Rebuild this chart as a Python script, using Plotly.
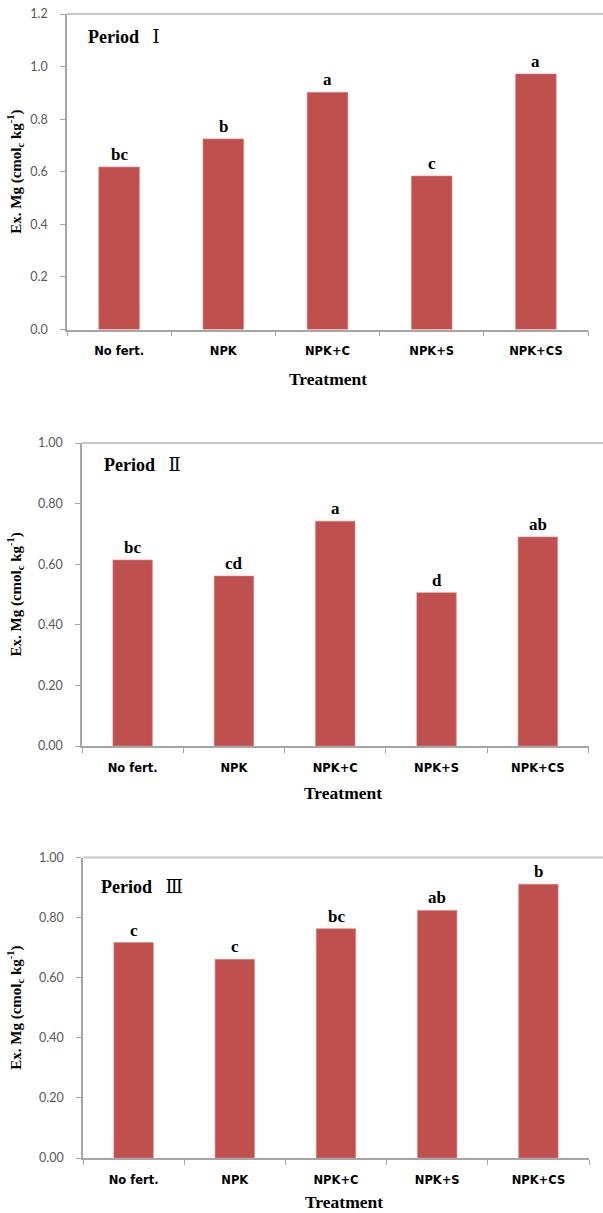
import plotly.graph_objects as go

# ---------------- data ----------------
categories = ["No fert.", "NPK", "NPK+C", "NPK+S", "NPK+CS"]
period1 = [0.618, 0.725, 0.902, 0.584, 0.972]
period2 = [0.614, 0.561, 0.742, 0.506, 0.690]
period3 = [0.717, 0.661, 0.763, 0.824, 0.911]
letters1 = ["bc", "b", "a", "c", "a"]
letters2 = ["bc", "cd", "a", "d", "ab"]
letters3 = ["c", "c", "bc", "ab", "b"]
period_word = "Period"
period_numerals = ["Ⅰ", "Ⅱ", "Ⅲ"]
y_ticks1 = [0.0, 0.2, 0.4, 0.6, 0.8, 1.0, 1.2]
y_ticks23 = [0.0, 0.2, 0.4, 0.6, 0.8, 1.0]
x_title = "Treatment"
y_title = "Ex. Mg (cmol<sub>c</sub> kg<sup>-1</sup>)"

W, H = 603, 1213
BAR = "#C0504D"
AXIS = "#A6A6A6"
TOPLINE = "#C8C8C8"
SERIF = "Liberation Serif, Times New Roman, DejaVu Serif, Noto Sans CJK SC, serif"
TICKFONT = dict(family="Lato, Open Sans, sans-serif", size=12.5, color="#595959")
XTICKFONT = dict(family="DejaVu Sans, Verdana, sans-serif", size=11.5,
                 color="#000000", weight="bold")


def px_x(p):
    return p / W


def px_y(p):
    return 1 - p / H


# panel geometry in page pixels: (left, right, top, bottom)
panels = [
    dict(l=67, r=588, t=14, b=329.5, vals=period1, letters=letters1, ymax=1.2,
         ticks=y_ticks1, fmt="{:.1f}", num=period_numerals[0], tx=86, ty=37,
         xt_x=328, xt_y=379),
    dict(l=82, r=588.5, t=443, b=746, vals=period2, letters=letters2, ymax=1.0,
         ticks=y_ticks23, fmt="{:.2f}", num=period_numerals[1], tx=102, ty=465,
         xt_x=343, xt_y=793),
    dict(l=83, r=589, t=857.5, b=1158, vals=period3, letters=letters3, ymax=1.0,
         ticks=y_ticks23, fmt="{:.2f}", num=period_numerals[2], tx=99, ty=886,
         xt_x=344, xt_y=1202),
]

fig = go.Figure()
annotations = []
shapes = []
layout_axes = {}

for i, p in enumerate(panels, start=1):
    xa = "x" if i == 1 else f"x{i}"
    ya = "y" if i == 1 else f"y{i}"
    fig.add_trace(go.Bar(
        x=categories, y=p["vals"], xaxis=xa, yaxis=ya,
        marker=dict(color=BAR, line=dict(width=0.6, color="#D98886")),
        width=0.39, showlegend=False, hoverinfo="x+y",
    ))
    xkey = "xaxis" if i == 1 else f"xaxis{i}"
    ykey = "yaxis" if i == 1 else f"yaxis{i}"
    layout_axes[xkey] = dict(
        domain=[px_x(p["l"]), px_x(p["r"])], anchor=ya,
        type="category", categoryorder="array", categoryarray=categories,
        showline=True, linecolor=AXIS, linewidth=1.5,
        ticks="outside", tickson="boundaries", ticklen=5, tickcolor=AXIS,
        tickfont=XTICKFONT, ticklabelstandoff=10, showgrid=False, zeroline=False,
        fixedrange=True, automargin=False,
    )
    layout_axes[ykey] = dict(
        domain=[px_y(p["b"]), px_y(p["t"])], anchor=xa,
        range=[0, p["ymax"]], tickvals=p["ticks"],
        ticktext=[p["fmt"].format(v) for v in p["ticks"]],
        showline=True, linecolor=AXIS, linewidth=1.5,
        ticks="outside", ticklen=5, tickcolor=AXIS, tickfont=TICKFONT,
        ticklabelstandoff=10, showgrid=False, zeroline=False, fixedrange=True,
        automargin=False,
    )
    # top frame line
    shapes.append(dict(type="line", xref="paper", yref="paper",
                       x0=px_x(p["l"]), x1=1.0, y0=px_y(p["t"]), y1=px_y(p["t"]),
                       line=dict(color=TOPLINE, width=2)))
    # significance letters
    for c, v, s in zip(categories, p["vals"], p["letters"]):
        annotations.append(dict(
            x=c, y=v, xref=xa, yref=ya, text=f"<b>{s}</b>", showarrow=False,
            yanchor="bottom", yshift=1,
            font=dict(family=SERIF, size=17, color="#000000"),
        ))
    # period title (serif roman numeral, set apart as in the original)
    annotations.append(dict(
        x=px_x(p["tx"]), y=px_y(p["ty"]), xref="paper", yref="paper",
        text=(f"<b>{period_word}</b>&nbsp;&nbsp; "
              f"<span style=\"font-family:'DejaVu Serif';font-weight:normal\">"
              f"{p['num']}</span>"),
        showarrow=False, xanchor="left", yanchor="middle",
        font=dict(family=SERIF, size=18, color="#000000"),
    ))
    # x axis title
    annotations.append(dict(
        x=px_x(p["xt_x"]), y=px_y(p["xt_y"]), xref="paper", yref="paper",
        text=f"<b>{x_title}</b>", showarrow=False,
        xanchor="center", yanchor="middle",
        font=dict(family=SERIF, size=17.5, color="#000000"),
    ))
    # y axis title
    annotations.append(dict(
        x=px_x(15), y=px_y((p["t"] + p["b"]) / 2), xref="paper", yref="paper",
        text=f"<b>{y_title}</b>", showarrow=False, textangle=-90,
        xanchor="center", yanchor="middle",
        font=dict(family=SERIF, size=15, color="#000000"),
    ))

fig.update_layout(
    width=W, height=H, autosize=False,
    margin=dict(l=0, r=0, t=0, b=0, pad=0, autoexpand=False),
    paper_bgcolor="white", plot_bgcolor="white",
    bargap=0.61,
    annotations=annotations, shapes=shapes,
    **layout_axes,
)

# place the figure flush with the page corner (no default body margin)
post = (
    "document.documentElement.style.margin='0';"
    "document.body.style.margin='0';document.body.style.padding='0';"
    "document.body.style.overflow='hidden';"
    "var d=document.getElementById('{plot_id}');"
    "d.style.position='absolute';d.style.left='0px';d.style.top='0px';"
)

fig.write_html("out.html", config={"displayModeBar": False}, post_script=post)
